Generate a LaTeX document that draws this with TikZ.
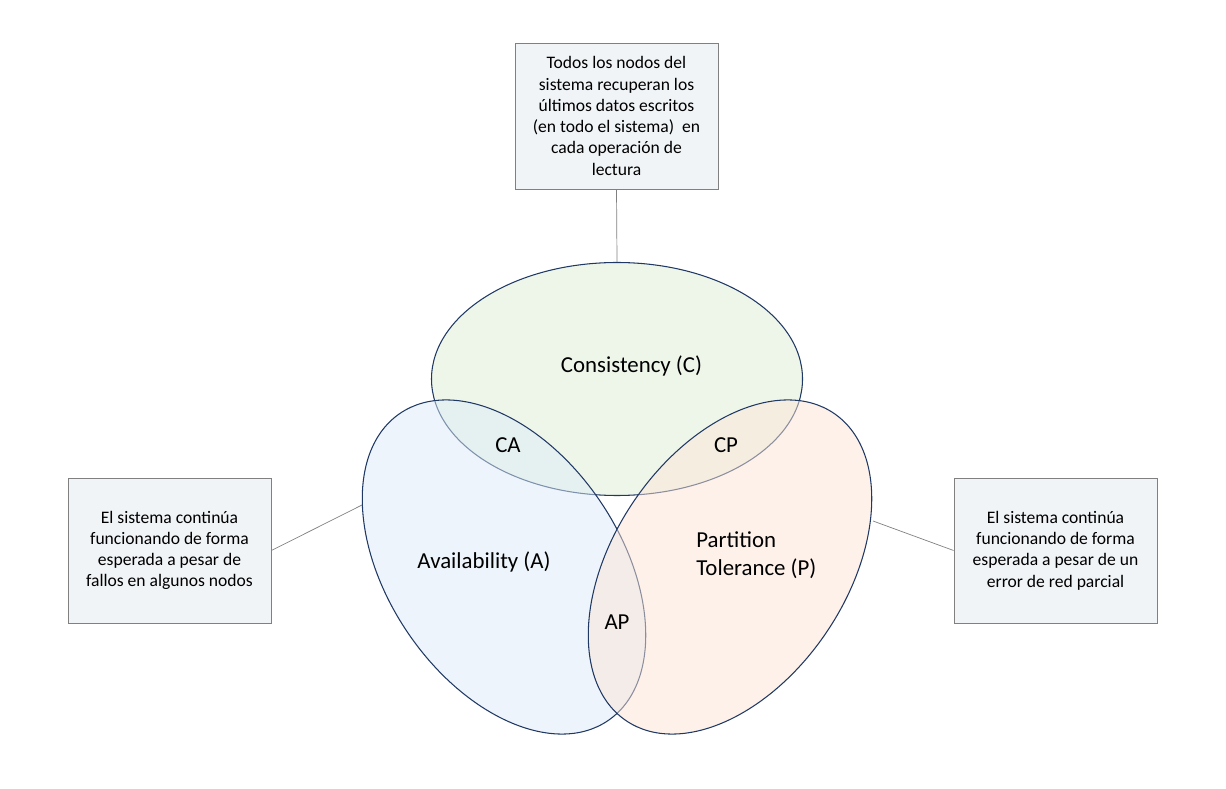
\documentclass[tikz,border=0pt]{standalone}
\usepackage{fontspec}
\setmainfont{Carlito}
\usepackage{xcolor}
\usepackage{tikz}
\usetikzlibrary{shapes,calc,positioning}
\definecolor{setline}{RGB}{32,56,100}
\definecolor{setgreen}{RGB}{222,237,214}
\definecolor{setblue}{RGB}{220,234,247}
\definecolor{setorange}{RGB}{251,228,214}
\definecolor{notefill}{RGB}{241,244,247}
\definecolor{noteline}{RGB}{128,128,128}

\begin{document}
\begin{tikzpicture}[set/.style={ellipse,draw=setline,line width=0.6pt,fill opacity=0.5,
minimum width=7.42cm,minimum height=4.66cm,inner sep=0pt},
note/.style={rectangle,draw=noteline,fill=notefill,line width=0.5pt,minimum width=4.06cm,
minimum height=2.9cm,align=center,font=\fontsize{10}{12.1}\selectfont},
lbl/.style={inner sep=0pt,font=\fontsize{13}{16.2}\selectfont}]
\useasboundingbox (0,0) rectangle (24.52,15.76);
\node (C) at (12.34,8.18)[set,fill=setgreen] {};
\node (A) at (10.08,4.42)[set,fill=setblue,rotate=-56] {};
\node (P) at (14.60,4.42)[set,fill=setorange,rotate=56] {};
\node (cnote) at (12.33,13.44)[note,minimum height=2.92cm] {Todos los nodos del\\sistema recuperan los\\últimos datos escritos\\(en todo el sistema)~ en\\cada operación de\\lectura};
\node (anote) at (3.39,4.75)[note] {El sistema continúa\\funcionando de forma\\esperada a pesar de\\fallos en algunos nodos};
\node (pnote) at (21.11,4.75)[note] {El sistema continúa\\funcionando de forma\\esperada a pesar de un\\error de red parcial};
\coordinate (aedge) at (7.24,5.66);
\coordinate (pedge) at (17.46,5.34);
\draw[noteline] (cnote.south) -- (C.north);
\draw[noteline] (anote.east) -- (aedge);
\draw[noteline] (pnote.west) -- (pedge);
\node (lc) at (12.63,8.44)[lbl] {Consistency (C)};
\node (lca) at (10.16,6.86)[lbl] {CA};
\node (lcp) at (14.52,6.86)[lbl] {CP};
\node (la) at (9.68,4.52)[lbl] {Availability (A)};
\node (lp) at (13.92,4.66)[lbl,anchor=west,align=left] {Partition\\Tolerance (P)};
\node (lap) at (12.34,3.32)[lbl] {AP};
\end{tikzpicture}
\end{document}
